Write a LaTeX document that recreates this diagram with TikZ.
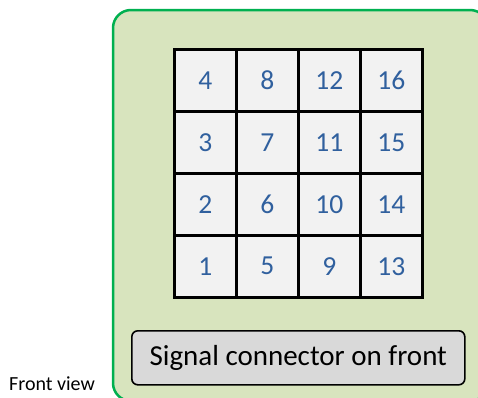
\documentclass[tikz,border=0pt]{standalone}
\usepackage{fontspec}
\setmainfont{Carlito}
\definecolor{outerfill}{HTML}{D8E4BE}
\definecolor{outerline}{HTML}{00B050}
\definecolor{cellfill}{HTML}{F2F2F2}
\definecolor{numblue}{HTML}{30609E}
\definecolor{sigfill}{HTML}{D9D9D9}
\tikzset{
  cellbox/.style={draw=black, line width=2.5pt, fill=cellfill, minimum width=62pt, minimum height=62pt, inner sep=0pt, anchor=north west, text=numblue, font=\fontsize{27.5}{32}\selectfont},
  outerbox/.style={draw=outerline, fill=outerfill, line width=2.5pt, rounded corners=18pt},
  sigbox/.style={draw=black, fill=sigfill, line width=1.6pt, rounded corners=6pt, minimum width=333pt, minimum height=54pt, inner sep=0pt, anchor=north west, font=\fontsize{29}{34}\selectfont},
  viewlabel/.style={anchor=base west, inner sep=0pt, font=\fontsize{20}{24}\selectfont}
}
\begin{document}
\begin{tikzpicture}[x=1pt,y=-1pt]
\useasboundingbox (0,0) rectangle (478,397);
\clip (0,0) rectangle (478,397);
\fill[white] (0,0) rectangle (478,397);
\draw[outerbox] (113,10) rectangle (488,401);
\foreach \c in {0,1,2,3}{
  \foreach \r in {0,1,2,3}{
    \pgfmathtruncatemacro{\num}{\c*4+4-\r}
    \node[cellbox] (cell\num) at ({173+\c*62},{48+\r*62}) {\num};
  }
}
\node[sigbox] (sig) at (131,330) {Signal connector on front};
\node[viewlabel] (fv) at (9,390) {Front view};
\end{tikzpicture}
\end{document}
